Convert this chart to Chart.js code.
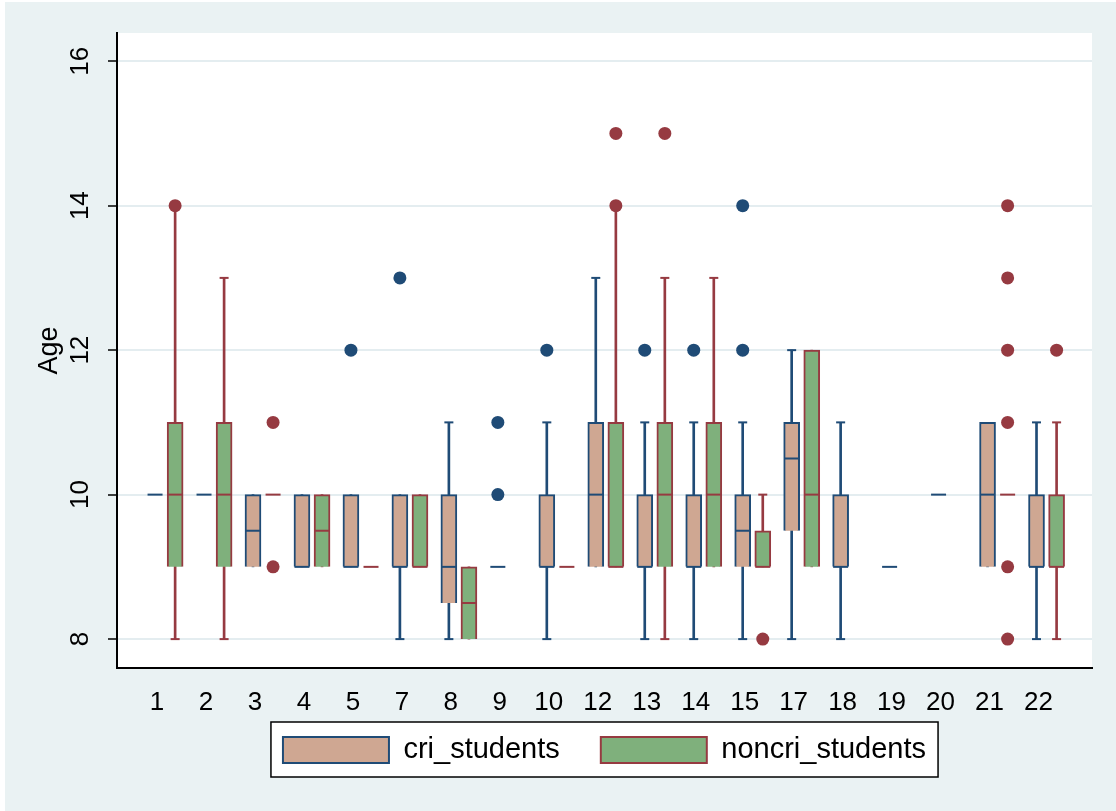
<!DOCTYPE html>
<html><head><meta charset="utf-8">
<script src="https://cdn.jsdelivr.net/npm/chart.js@4.4.1/dist/chart.umd.min.js"></script>
<style>html,body{margin:0;padding:0;background:#fff}#wrap{width:1116px;height:811px}</style>
</head><body><div id="wrap"><canvas id="c" width="1116" height="811"></canvas></div>
<script>
// ---- data ----
const categories = ['1','2','3','4','5','7','8','9','10','12','13','14','15','17','18','19','20','21','22'];
const yTicks = [8, 10, 12, 14, 16];

// cri_students
const criQ1     = [10,10,9,  9, 9, 9, 8.5,9, 9, 9, 9, 9, 9,  9.5, 9, 9,10, 9, 9];
const criMedian = [10,10,9.5,9, 9, 9, 9,  9, 9, 10,9, 9, 9.5,10.5,9, 9,10,10, 9];
const criQ3     = [10,10,10, 10,10,10,10, 9, 10,11,10,10,10, 11,  10,9,10,11,10];
const criLow    = [10,10,9,  9, 9, 8, 8,  9, 8, 9, 8, 8, 8,  8,   8, 9,10, 9, 8];
const criHigh   = [10,10,10, 10,10,10,11, 9, 11,13,11,11,11, 12,  11,9,10,11,11];
const criOutliers = [[],[],[],[],[12],[13],[],[10,11],[12],[],[12],[12],[12,14],[],[],[],[],[],[]];

// noncri_students
const noncriQ1     = [9, 9, 10,9,  9,9, 8,  null,9,9, 9, 9, 9,  9, null,null,null,10,9];
const noncriMedian = [10,10,10,9.5,9,9, 8.5,null,9,9, 10,10,9,  10,null,null,null,10,9];
const noncriQ3     = [11,11,10,10, 9,10,9,  null,9,11,11,11,9.5,12,null,null,null,10,10];
const noncriLow    = [8, 8, 10,9,  9,9, 8,  null,9,9, 8, 9, 9,  9, null,null,null,10,8];
const noncriHigh   = [14,13,10,10, 9,10,9,  null,9,14,13,13,10, 12,null,null,null,10,11];
const noncriOutliers = [[14],[],[9,11],[],[],[],[],[],[],[14,15],[15],[],[8],[],[],[],[],[8,9,11,12,13,14],[12]];

// ---- styling ----
const OFF_C = -0.04, OFF_N = 0.37;
const CRI_FILL = '#cfa792', CRI_LINE = '#1f4b76';
const NON_FILL = '#7fb07c', NON_LINE = '#963a41';

function whiskers(off, lo, hi){ const d=[]; categories.forEach((c,i)=>{ if(lo[i]!=null && hi[i]>lo[i]) d.push({x:i+off, y:[lo[i],hi[i]]}); }); return d; }
function boxes(off, q1, q3){ const d=[]; categories.forEach((c,i)=>{ if(q1[i]!=null && q3[i]>q1[i]) d.push({x:i+off, y:[q1[i],q3[i]]}); }); return d; }
function caps(off, lo, hi, q1, q3){ const d=[]; categories.forEach((c,i)=>{ if(lo[i]==null) return; if(lo[i]<q1[i]) d.push({x:i+off,y:lo[i]}); if(hi[i]>q3[i]) d.push({x:i+off,y:hi[i]}); }); return d; }
function medians(off, med){ const d=[]; categories.forEach((c,i)=>{ if(med[i]!=null) d.push({x:i+off,y:med[i]}); }); return d; }
function outliers(off, outs){ const d=[]; outs.forEach((arr,i)=>arr.forEach(v=>d.push({x:i+off,y:v}))); return d; }

const barBase = {type:'bar', grouped:false, barPercentage:1, categoryPercentage:1};
const datasets = [
  Object.assign({}, barBase, {label:'w1', data:whiskers(OFF_C,criLow,criHigh), backgroundColor:CRI_LINE, borderWidth:0, maxBarThickness:2, order:5}),
  Object.assign({}, barBase, {label:'w2', data:whiskers(OFF_N,noncriLow,noncriHigh), backgroundColor:NON_LINE, borderWidth:0, maxBarThickness:2, order:5}),
  Object.assign({}, barBase, {label:'cri_students', legend:true, data:boxes(OFF_C,criQ1,criQ3), backgroundColor:CRI_FILL, borderColor:CRI_LINE, borderWidth:2, maxBarThickness:16, order:4}),
  Object.assign({}, barBase, {label:'noncri_students', legend:true, data:boxes(OFF_N,noncriQ1,noncriQ3), backgroundColor:NON_FILL, borderColor:NON_LINE, borderWidth:2, maxBarThickness:16, order:4}),
  {type:'scatter', label:'c1', data:caps(OFF_C,criLow,criHigh,criQ1,criQ3), pointStyle:'line', pointRadius:4.5, pointHoverRadius:4.5, pointBorderWidth:2, pointBorderColor:CRI_LINE, order:3},
  {type:'scatter', label:'c2', data:caps(OFF_N,noncriLow,noncriHigh,noncriQ1,noncriQ3), pointStyle:'line', pointRadius:4.5, pointHoverRadius:4.5, pointBorderWidth:2, pointBorderColor:NON_LINE, order:3},
  {type:'scatter', label:'m1', data:medians(OFF_C,criMedian), pointStyle:'line', pointRadius:7.5, pointHoverRadius:7.5, pointBorderWidth:2, pointBorderColor:CRI_LINE, order:2},
  {type:'scatter', label:'m2', data:medians(OFF_N,noncriMedian), pointStyle:'line', pointRadius:7.5, pointHoverRadius:7.5, pointBorderWidth:2, pointBorderColor:NON_LINE, order:2},
  {type:'scatter', label:'o1', data:outliers(OFF_C,criOutliers), pointStyle:'circle', pointRadius:6.5, pointHoverRadius:6.5, pointBorderWidth:0, pointBackgroundColor:CRI_LINE, order:1},
  {type:'scatter', label:'o2', data:outliers(OFF_N,noncriOutliers), pointStyle:'circle', pointRadius:6.5, pointHoverRadius:6.5, pointBorderWidth:0, pointBackgroundColor:NON_LINE, order:1}
];

function legendRect(chart){
  const lg = chart.legend; if(!lg || !lg.legendHitBoxes || !lg.legendHitBoxes.length) return null;
  const hb = lg.legendHitBoxes, f = hb[0], l = hb[hb.length-1];
  return {L:f.left-12, T:f.top-13.5, R:l.left+l.width+12, B:f.top+f.height+12.5};
}

const deco = {
  id:'deco',
  beforeDraw(chart){
    const {ctx, chartArea:a} = chart;
    ctx.save();
    ctx.fillStyle='#ffffff'; ctx.fillRect(0,0,chart.width,chart.height);
    ctx.fillStyle='#eaf2f3'; ctx.fillRect(5,2,chart.width-5,chart.height-2);
    ctx.fillStyle='#ffffff'; ctx.fillRect(a.left,a.top,a.right-a.left,a.bottom-a.top);
    const r = legendRect(chart);
    if(r){ ctx.fillRect(r.L,r.T,r.R-r.L,r.B-r.T); }
    ctx.restore();
  },
  afterDraw(chart){
    const r = legendRect(chart); if(!r) return;
    const ctx = chart.ctx;
    ctx.save();
    ctx.strokeStyle='#000'; ctx.lineWidth=1.5;
    ctx.strokeRect(r.L,r.T,r.R-r.L,r.B-r.T);
    ctx.restore();
  }
};

Chart.defaults.font.family = '"Liberation Sans", Arial, Helvetica, sans-serif';
Chart.defaults.color = '#000';

new Chart(document.getElementById('c'), {
  type:'bar',
  data:{datasets},
  plugins:[deco],
  options:{
    responsive:false, animation:false, devicePixelRatio:1,
    layout:{padding:{left:5, right:24, top:33, bottom:36.5}},
    plugins:{
      tooltip:{enabled:false},
      legend:{
        position:'bottom', fullSize:false,
        labels:{boxWidth:106, boxHeight:26, padding:41, color:'#000', font:{size:29},
          filter:(item, data)=>!!data.datasets[item.datasetIndex].legend}
      }
    },
    scales:{
      x:{
        type:'linear', min:-0.817, max:19.093, offset:false,
        afterBuildTicks:s=>{ s.ticks = categories.map((c,i)=>({value:i})); },
        afterFit:s=>{ s.height = 26.5; s._computeLabelArea = function(){ return undefined; }; },
        grid:{display:false},
        border:{display:true, color:'#000', width:2},
        ticks:{color:'#000', font:{size:26, lineHeight:1}, padding:14, minRotation:0, maxRotation:0, autoSkip:false,
          callback:(v)=>categories[Math.round(v)]}
      },
      y:{
        type:'linear', min:7.6, max:16.39,
        afterBuildTicks:s=>{ s.ticks = yTicks.map(v=>({value:v})); },
        afterFit:s=>{ s.width = 112; },
        grid:{color:'#e4edf0', lineWidth:2, tickColor:'#000', tickLength:9, tickWidth:1.5},
        border:{display:true, color:'#000', width:2},
        ticks:{color:'#000', font:{size:26}, padding:13, minRotation:90, maxRotation:90, crossAlign:'center', autoSkip:false},
        title:{display:true, text:'Age', color:'#000', font:{size:27, lineHeight:1}, padding:{top:31.5, bottom:0}}
      }
    }
  }
});
</script></body></html>
